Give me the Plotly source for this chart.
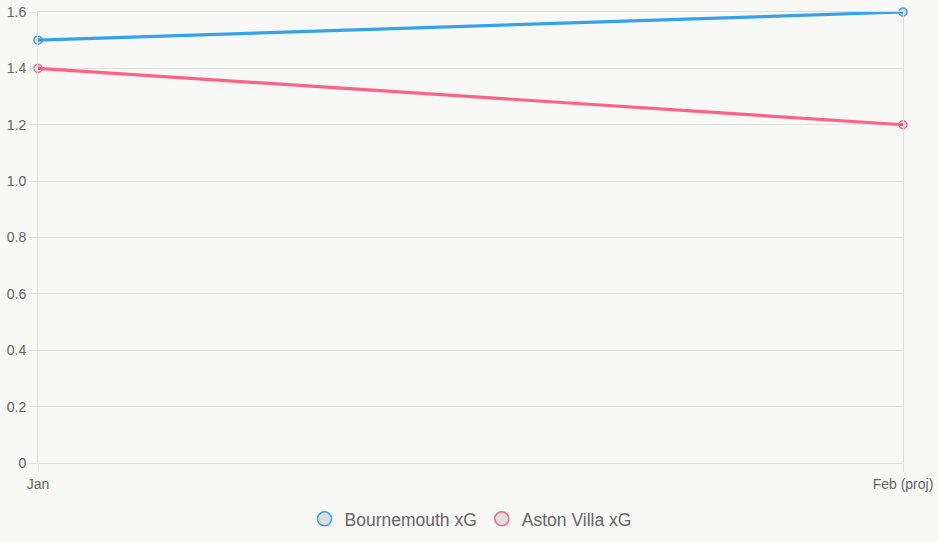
import plotly.graph_objects as go

months = ["Jan", "Feb (proj)"]
bournemouth_xg = [1.5, 1.6]
aston_villa_xg = [1.4, 1.2]
y_ticks = [0, 0.2, 0.4, 0.6, 0.8, 1.0, 1.2, 1.4, 1.6]
y_tick_labels = ["0", "0.2", "0.4", "0.6", "0.8", "1.0", "1.2", "1.4", "1.6"]

BLUE = "#36A2EB"
RED = "#FF6384"
GRID = "#dfdfdd"
BG = "#f8f8f6"
xpos = list(range(len(months)))

fig = go.Figure()
for name, vals, col in [("Bournemouth xG", bournemouth_xg, BLUE),
                        ("Aston Villa xG", aston_villa_xg, RED)]:
    fig.add_trace(go.Scatter(
        x=xpos, y=vals, mode="lines+markers", name=name, showlegend=False,
        line=dict(color=col, width=3.2),
        marker=dict(size=8, color="rgba(0,0,0,0.1)", line=dict(color=col, width=1.5)),
        cliponaxis=False,
    ))
    fig.add_trace(go.Scatter(
        x=[None], y=[None], mode="markers", name=name,
        marker=dict(size=14, color="rgba(0,0,0,0.1)", line=dict(color=col, width=1.5)),
    ))

fig.update_layout(
    width=939, height=542,
    margin=dict(l=38, r=36, t=12, b=79, autoexpand=False),
    paper_bgcolor=BG, plot_bgcolor=BG,
    font=dict(family="Liberation Sans, Arial, sans-serif", size=14, color="#666666"),
    showlegend=True,
    legend=dict(orientation="h", x=0.5, xanchor="center", y=-0.124, yanchor="middle",
                font=dict(size=17.5, color="#666666"), bgcolor="rgba(0,0,0,0)",
                itemwidth=30, tracegroupgap=0),
    xaxis=dict(range=[0, len(months) - 1], tickvals=xpos, ticktext=months,
               showgrid=True, gridcolor=GRID, gridwidth=1, zeroline=False,
               showline=True, linecolor=GRID, mirror=True, automargin=False,
               ticks="outside", ticklen=8, tickcolor=GRID, tickfont=dict(size=14, color="#666666")),
    yaxis=dict(range=[0, 1.6], tickvals=y_ticks, ticktext=y_tick_labels,
               showgrid=True, gridcolor=GRID, gridwidth=1, zeroline=False,
               showline=True, linecolor=GRID, mirror=True, automargin=False,
               ticks="outside", ticklen=8, tickcolor=GRID, tickfont=dict(size=14, color="#666666")),
)

fig.write_html("out.html")
